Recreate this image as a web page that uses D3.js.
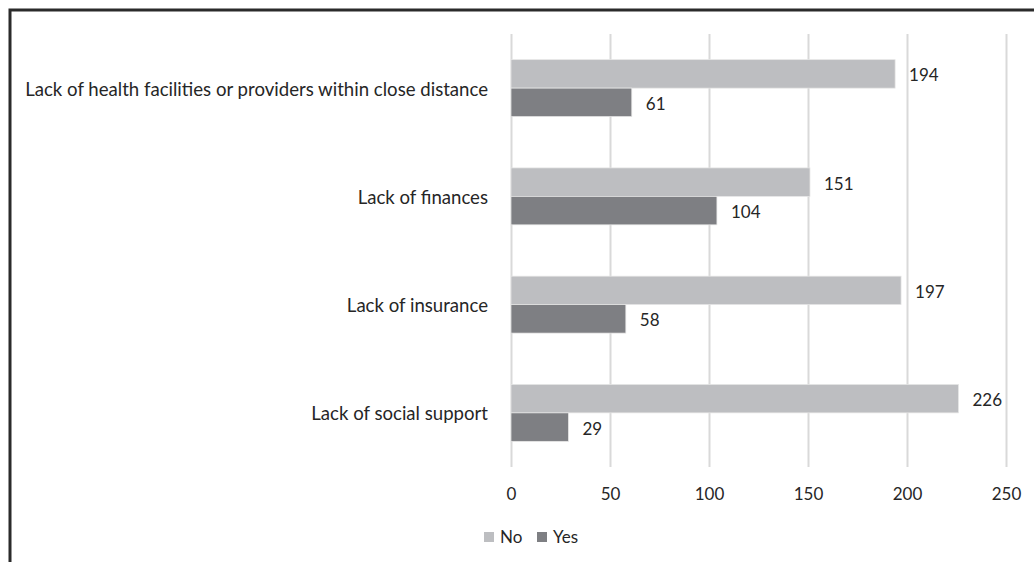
<!DOCTYPE html>
<html>
<head>
<meta charset="utf-8">
<script src="https://cdn.jsdelivr.net/npm/d3@7"></script>
<style>
  body { margin: 0; background: #fff; }
  svg text { font-family: Lato, "Open Sans", sans-serif; fill: #262626; }
</style>
</head>
<body>
<div id="chart"></div>
<script>
const categories = [
  'Lack of health facilities or providers within close distance',
  'Lack of finances',
  'Lack of insurance',
  'Lack of social support'
];
const seriesNames = ['No', 'Yes'];
const noValues = [194, 151, 197, 226];
const yesValues = [61, 104, 58, 29];
const xTicks = [0, 50, 100, 150, 200, 250];
const colors = ['#bdbec1', '#7e7f83'];

class BarChart {
  constructor(selector, w, h) {
    this.w = w;
    this.h = h;
    this.root = selector.html('')
      .append('svg')
      .attr('width', this.w)
      .attr('height', this.h);
  }

  init() {
    this.left = 511;
    this.right = 1006;
    this.top = 34;
    this.bottom = 467;
    this.fontSize = 17;
    this.catFontSize = 18.6;

    this.x = d3.scaleLinear()
      .domain([0, 250])
      .range([this.left, this.right]);
    this.y = d3.scaleBand()
      .domain(categories)
      .range([this.top, this.bottom])
      .paddingInner(0.474)
      .paddingOuter(0.237);
    this.inner = d3.scaleBand()
      .domain(seriesNames)
      .range([0, this.y.bandwidth()]);

    this.rows = categories.map((c, i) => ({
      cat: c,
      values: [noValues[i], yesValues[i]]
    }));

    this.drawFrame();
    this.drawGrid();
    this.drawBars();
    this.drawLabels();
    this.drawLegend();
  }

  drawFrame() {
    // only top and left edges of the box show, the rest is cropped
    this.root.append('path')
      .attr('d', `M10,${this.h + 5} V10 H${this.w + 5}`)
      .attr('fill', 'none')
      .attr('stroke', '#2b2b2b')
      .attr('stroke-width', 3);
  }

  drawGrid() {
    let axis = d3.axisBottom(this.x)
      .tickValues(xTicks)
      .tickSize(-(this.bottom - this.top))
      .tickPadding(21);
    let g = this.root.append('g')
      .attr('class', 'x-axis')
      .attr('transform', `translate(0,${this.bottom})`)
      .call(axis);
    g.select('.domain').remove();
    g.selectAll('line').attr('stroke', '#d9d9d9').attr('stroke-width', 2);
    g.selectAll('text')
      .style('font-size', this.fontSize + 'px')
      .attr('fill', '#262626');
  }

  drawBars() {
    let groups = this.root.append('g')
      .attr('class', 'bars')
      .selectAll('g')
      .data(this.rows)
      .enter()
      .append('g')
      .attr('transform', d => `translate(0,${this.y(d.cat)})`);

    let bar = groups.selectAll('g')
      .data(d => d.values.map((v, k) => ({ name: seriesNames[k], v: v, k: k })))
      .enter()
      .append('g');

    bar.append('rect')
      .attr('x', this.x(0))
      .attr('y', d => this.inner(d.name))
      .attr('width', d => this.x(d.v) - this.x(0))
      .attr('height', this.inner.bandwidth())
      .attr('fill', d => colors[d.k])
      .attr('stroke', '#e6e6e6')
      .attr('stroke-width', 0.75);

    // value labels sit just right of each bar
    bar.append('text')
      .attr('x', d => this.x(d.v) + 14)
      .attr('y', d => this.inner(d.name) + this.inner.bandwidth() / 2 + 1.5)
      .attr('dy', '0.35em')
      .style('font-size', this.fontSize + 'px')
      .text(d => d.v);
  }

  drawLabels() {
    this.root.append('g')
      .attr('class', 'cat-labels')
      .selectAll('text')
      .data(categories)
      .enter()
      .append('text')
      .attr('x', 488)
      .attr('y', d => this.y(d) + this.y.bandwidth() / 2 + 1)
      .attr('dy', '0.35em')
      .attr('text-anchor', 'end')
      .style('font-size', this.catFontSize + 'px')
      .text(d => d);
  }

  drawLegend() {
    let lg = this.root.append('g')
      .attr('class', 'legend')
      .attr('transform', 'translate(484,537)');
    let offsets = [0, 53];
    let item = lg.selectAll('g')
      .data(seriesNames)
      .enter()
      .append('g')
      .attr('transform', (d, i) => `translate(${offsets[i]},0)`);
    item.append('rect')
      .attr('x', 0)
      .attr('y', -5)
      .attr('width', 10)
      .attr('height', 10)
      .attr('fill', (d, i) => colors[i]);
    item.append('text')
      .attr('x', 16)
      .attr('y', 0)
      .attr('dy', '0.35em')
      .style('font-size', this.fontSize + 'px')
      .text(d => d);
  }
}

let chart = new BarChart(d3.select('#chart'), 1034, 562);
chart.init();
</script>
</body>
</html>
